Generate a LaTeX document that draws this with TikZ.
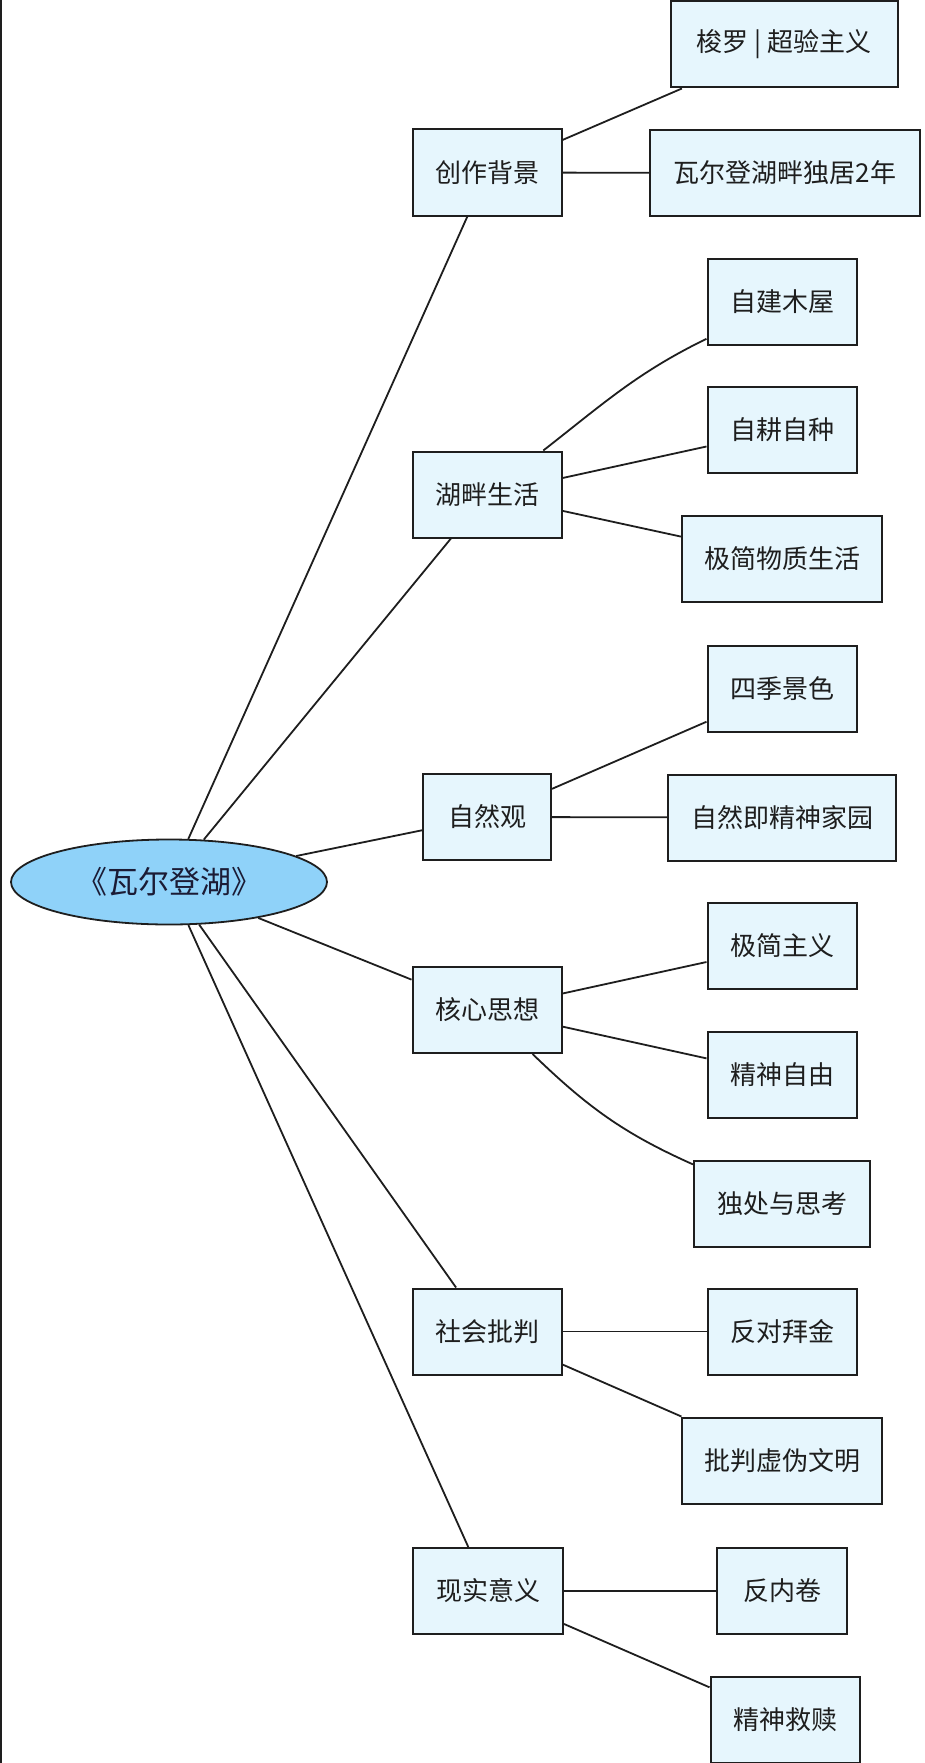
\documentclass[tikz,border=0pt]{standalone}
\usepackage{fontspec}
\newfontfamily\cjk{Noto Sans CJK SC}
\usetikzlibrary{shapes.geometric}
\definecolor{boxfill}{HTML}{E6F6FD}
\definecolor{ellfill}{HTML}{8FD2F9}
\definecolor{ink}{HTML}{1E1E1E}
\tikzset{
  x=1pt,y=1pt,
  topic/.style={ellipse, draw=ink, line width=1.8pt, fill=ellfill, inner sep=0pt,
    minimum width=316pt, minimum height=85pt, font=\cjk\fontsize{31}{31}\selectfont, text=ink!90!blue},
  boxnode/.style={rectangle, draw=ink, line width=2pt, fill=boxfill, inner sep=0pt,
    minimum height=86pt, font=\cjk\fontsize{26}{26}\selectfont, text=ink},
  link/.style={draw=ink, line width=1.8pt}
}
\begin{document}
\begin{tikzpicture}
\useasboundingbox (0,0) rectangle (925,-1763);
\fill[white] (0,0) rectangle (925,-1763);
\draw[line width=2pt, ink] (1,0) -- (1,-1763);

\node[topic] (root) at (169,-882) {《瓦尔登湖》};

\node[boxnode, minimum width=149pt] (A) at (487,-172.5) {创作背景};
\node[boxnode, minimum width=149pt] (B) at (487,-494.5) {湖畔生活};
\node[boxnode, minimum width=128pt] (C) at (487,-817) {自然观};
\node[boxnode, minimum width=149pt] (D) at (487,-1010) {核心思想};
\node[boxnode, minimum width=149pt] (E) at (487,-1331.5) {社会批判};
\node[boxnode, minimum width=150pt] (F) at (488,-1591) {现实意义};

\node[boxnode, minimum width=227pt] (a1) at (784,-44.5) {梭罗 | 超验主义};
\node[boxnode, minimum width=270pt] (a2) at (785,-173) {瓦尔登湖畔独居2年};
\node[boxnode, minimum width=149pt] (b1) at (782,-302) {自建木屋};
\node[boxnode, minimum width=149pt] (b2) at (782,-430) {自耕自种};
\node[boxnode, minimum width=200pt] (b3) at (782,-558.5) {极简物质生活};
\node[boxnode, minimum width=149pt] (c1) at (782,-689) {四季景色};
\node[boxnode, minimum width=228pt] (c2) at (782,-817.5) {自然即精神家园};
\node[boxnode, minimum width=149pt] (d1) at (782,-945.5) {极简主义};
\node[boxnode, minimum width=149pt] (d2) at (782,-1075) {精神自由};
\node[boxnode, minimum width=176pt] (d3) at (782,-1204) {独处与思考};
\node[boxnode, minimum width=149pt] (e1) at (782,-1331.5) {反对拜金};
\node[boxnode, minimum width=200pt] (e2) at (782,-1460.5) {批判虚伪文明};
\node[boxnode, minimum width=130pt] (f1) at (782,-1591) {反内卷};
\node[boxnode, minimum width=149pt] (f2) at (785,-1720) {精神救赎};

\path[link] (root) -- (A);
\path[link] (root) -- (B);
\path[link] (root) -- (C);
\path[link] (root) -- (D);
\path[link] (root) -- (E);
\path[link] (root) -- (F);

\path[link] (A) -- (a1);
\path[link] (A) -- (a2);
\path[link] (B) to[out=38,in=206] (b1);
\path[link] (B) -- (b2);
\path[link] (B) -- (b3);
\path[link] (C) -- (c1);
\path[link] (C) -- (c2);
\path[link] (D) -- (d1);
\path[link] (D) -- (d2);
\path[link] (D) to[out=-44,in=156] (d3);
\path[link] (E) -- (e1);
\path[link] (E) -- (e2);
\path[link] (F) -- (f1);
\path[link] (F) -- (f2);
\end{tikzpicture}
\end{document}
